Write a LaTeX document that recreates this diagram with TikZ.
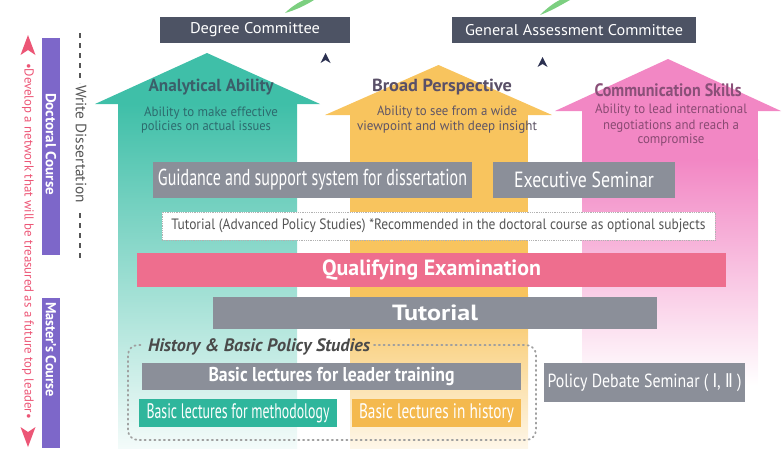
\documentclass[tikz,border=0pt]{standalone}
\usepackage{fontspec}
\setmainfont{PT Sans}
\newfontfamily\dvs{DejaVu Sans}
\usepackage{graphicx}
\usetikzlibrary{arrows.meta,calc}
\definecolor{tealA}{HTML}{3FBFA8}
\definecolor{orangeA}{HTML}{F8C45E}
\definecolor{pinkA}{HTML}{F287C4}
\definecolor{comgray}{HTML}{4D5364}
\definecolor{boxgray}{HTML}{8B8F99}
\definecolor{qualpink}{HTML}{EE6E8E}
\definecolor{purpleA}{HTML}{7D67C9}
\definecolor{redA}{HTML}{EC5676}
\definecolor{tealbox}{HTML}{2FB69C}
\definecolor{orangebox}{HTML}{F4B94E}
\definecolor{navyA}{HTML}{2B3050}
\definecolor{leafA}{HTML}{7CCF80}
\definecolor{tealtxt}{HTML}{3B5F6A}
\definecolor{tealsub}{HTML}{2D6B6E}
\definecolor{orgtxt}{HTML}{5A5068}
\definecolor{orgsub}{HTML}{5E5566}
\definecolor{pnktxt}{HTML}{8A4F78}
\definecolor{pnksub}{HTML}{8A4A73}
\definecolor{darktxt}{HTML}{4A4A4A}
\definecolor{midtxt}{HTML}{555555}
\newcommand\fw[2]{\resizebox{#1pt}{\height}{#2}}
\newcommand\fs[1]{\fontsize{#1}{#1}\selectfont}
\begin{document}
\begin{tikzpicture}[x=1pt,y=-1pt,
  box/.style={inner sep=0pt, outer sep=0pt, text=white, align=center},
  gbox/.style={box, fill=boxgray},
  cbox/.style={box, fill=comgray},
  lbl/.style={inner sep=0pt, outer sep=0pt},
  vtext/.style={inner sep=0pt, outer sep=0pt, rotate=-90},
  chev/.style={fill=navyA},
  dotline/.style={draw=gray!75, line width=1.8pt, dash pattern=on 1.2pt off 3.6pt, line cap=round},
]
\useasboundingbox (0,0) rectangle (783,448);
% top leaf fragments
\fill[leafA] (285,13) .. controls (291,7) and (299,2) .. (304,0) -- (314,0) .. controls (306,5) and (296,10) .. cycle;
\fill[leafA] (540,15) .. controls (547,8) and (555,2) .. (560,0) -- (570,0) .. controls (561,5) and (551,11) .. cycle;

% ---- big arrows ----
% green
\fill[tealA] (207,53) -- (320,104) -- (95,104) -- cycle;
\shade[top color=tealA, bottom color=tealA!6] (118,103.5) rectangle (297,448);
% orange
\fill[orangeA] (438.5,65) -- (552,115) -- (325,115) -- cycle;
\fill[orangeA] (350,114.5) rectangle (528,295);
\shade[top color=orangeA, bottom color=orangeA!14] (350,294.5) rectangle (528,448);
% pink
\fill[pinkA] (668,59) -- (781,111) -- (555,111) -- cycle;
\fill[pinkA] (582,110.5) rectangle (758,160);
\shade[top color=pinkA, bottom color=white] (582,159.5) rectangle (758,385);

% arrow texts
\node[lbl, text=tealtxt] (aa) at (211,87) {\fs{17.5}\bfseries\fw{125}{Analytical Ability}};
\node[lbl, text=tealsub] (aa1) at (211,113) {\fs{13.5}\fw{134}{Ability to make effective}};
\node[lbl, text=tealsub] (aa2) at (206,127) {\fs{13.5}\fw{130}{policies on actual issues}};
\node[lbl, text=orgtxt] (bp) at (442,87) {\fs{17.5}\bfseries\fw{140}{Broad Perspective}};
\node[lbl, text=orgsub] (bp1) at (447,112) {\fs{13.5}\fw{140}{Ability to see from a wide}};
\node[lbl, text=orgsub] (bp2) at (447,127) {\fs{13.5}\fw{180}{viewpoint and with deep insight}};
\node[lbl, text=pnktxt] (cs) at (668,90) {\fs{18}\bfseries\fw{147}{Communication Skills}};
\node[lbl, text=pnksub] (cs1) at (671,110) {\fs{13.5}\fw{152}{Ability to lead international}};
\node[lbl, text=pnksub] (cs2) at (671,126) {\fs{13.5}\fw{136}{negotiations and reach a}};
\node[lbl, text=pnksub] (cs3) at (671,140) {\fs{13.5}\fw{67}{compromise}};

% committees
\node[cbox, minimum width=190pt, minimum height=26pt] (deg) at (255,30) {\fs{15.5}\fw{130}{Degree Committee}};
\node[cbox, minimum width=244pt, minimum height=26pt] (gac) at (574,30) {\fs{15.5}\fw{218}{General Assessment Committee}};
% small chevrons pointing to committees
\coordinate (c1) at (325.5,58);
\coordinate (c2) at (542.5,62);
\fill[chev] ($(c1)+(0,-5)$) -- ($(c1)+(5,5)$) -- ($(c1)+(0,2)$) -- ($(c1)+(-5,5)$) -- cycle;
\fill[chev] ($(c2)+(0,-5)$) -- ($(c2)+(5,5)$) -- ($(c2)+(0,2)$) -- ($(c2)+(-5,5)$) -- cycle;

% program boxes
\node[gbox, minimum width=319pt, minimum height=36pt] (guid) at (312.5,180) {\fs{23}\fw{309}{Guidance and support system for dissertation}};
\node[gbox, minimum width=182pt, minimum height=36pt] (exec) at (584,180) {\fs{22}\fw{140}{Executive Seminar}};
\node[box, fill=white, draw=gray!60, densely dotted, line width=0.8pt, text=midtxt, minimum width=553pt, minimum height=28pt] (tadv) at (438.5,226) {\fs{15}\fw{534}{Tutorial (Advanced Policy Studies) *Recommended in the doctoral course as optional subjects}};
\node[box, fill=qualpink, minimum width=589pt, minimum height=34pt] (qual) at (431.5,270) {\fs{22}\bfseries\fw{219}{Qualifying Examination}};
\node[gbox, minimum width=444pt, minimum height=32pt] (tut) at (435,313) {\fs{22}\bfseries\fw{86}{Tutorial}};

% history & basic policy studies group
\draw[dotline, rounded corners=10pt] (374,345) -- (536,345) -- (536,440) -- (128,440) -- (128,345) -- (142,345);
\node[lbl, anchor=west, text=darktxt] (hbps) at (148,347) {\fs{18}\bfseries\itshape\fw{222}{History \& Basic Policy Studies}};
\node[gbox, minimum width=379pt, minimum height=27pt] (lead) at (331.5,376.5) {\fs{20}\bfseries\fw{246}{Basic lectures for leader training}};
\node[box, fill=tealbox, minimum width=198pt, minimum height=28pt] (meth) at (238,413) {\fs{21}\fw{183}{Basic lectures for methodology}};
\node[box, fill=orangebox, minimum width=169pt, minimum height=28pt] (hist) at (436.5,413) {\fs{21}\fw{155}{Basic lectures in history}};
\node[gbox, minimum width=201pt, minimum height=39pt] (pds) at (644.5,382.5) {\fs{19}\fw{194}{Policy Debate Seminar ( {\dvs Ⅰ}, {\dvs Ⅱ} )}};

% left side
\fill[purpleA] (42,38) rectangle (60,255);
\node[vtext, text=white] (doc) at (51,144) {\fs{14.5}\bfseries\fw{102}{Doctoral Course}};
\fill[purpleA] (42,298) rectangle (60,448);
\node[vtext, text=white] (mas) at (51,349.5) {\fs{14.5}\bfseries\fw{95}{Master's Course}};
\draw[midtxt, line width=1.3pt, dash pattern=on 5pt off 5pt] (80,33) -- (80,83);
\draw[midtxt, line width=1.3pt, dash pattern=on 5pt off 5pt] (80,213) -- (80,258);
\node[vtext, text=midtxt] (wd) at (81,144) {\fs{15}\fw{118}{Write Dissertation}};
\node[vtext, text=redA] (dev) at (28,241) {\fs{13}\fw{356}{•Develop a network that will be treasured as a future top leader•}};
\coordinate (upTip) at (28,35);
\coordinate (dnTip) at (28,447);
\fill[redA] (upTip) -- ++(7.5,20) -- ++(-7.5,-5) -- ++(-7.5,5) -- cycle;
\fill[redA] (dnTip) -- ++(7.5,-20) -- ++(-7.5,5) -- ++(-7.5,-5) -- cycle;
\end{tikzpicture}
\end{document}
